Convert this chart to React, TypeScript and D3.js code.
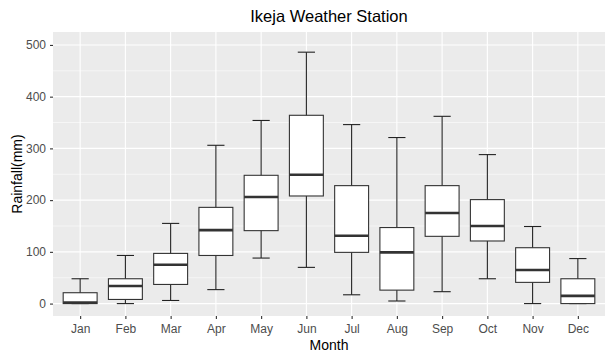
import React, { useRef, useEffect } from 'react';
import * as d3 from 'd3';

const months = ['Jan', 'Feb', 'Mar', 'Apr', 'May', 'Jun', 'Jul', 'Aug', 'Sep', 'Oct', 'Nov', 'Dec'];
const lowerWhisker = [0, 0, 6, 27, 88, 70, 17, 5, 23, 48, 0, 0];
const q1 = [0, 8, 37, 93, 141, 208, 99, 26, 130, 121, 41, 0];
const median = [2, 34, 75, 142, 206, 249, 131, 99, 175, 150, 65, 15];
const q3 = [21, 48, 97, 186, 248, 364, 228, 147, 228, 201, 108, 48];
const upperWhisker = [48, 93, 155, 306, 354, 486, 346, 321, 362, 288, 149, 87];
const yTicks = [0, 100, 200, 300, 400, 500];
const yMinorTicks = [50, 150, 250, 350, 450];

const App = () => {
    const svgRef = useRef<SVGSVGElement>(null);

    useEffect(() => {
        const svg = d3.select(svgRef.current);
        svg.selectAll('*').remove();

        const panel = { left: 53, right: 605, top: 32, bottom: 316 };
        const font = '"Liberation Sans", Arial, sans-serif';

        const x = d3.scalePoint<string>()
            .domain(months)
            .range([panel.left, panel.right])
            .padding(0.6);
        const step = x.step();

        const y = d3.scaleLinear()
            .domain([-24, 525])
            .range([panel.bottom, panel.top]);

        const data = months.map((m, i) => ({
            month: m,
            lo: lowerWhisker[i],
            q1: q1[i],
            med: median[i],
            q3: q3[i],
            hi: upperWhisker[i]
        }));

        // panel background
        svg.append('rect')
            .attr('x', panel.left)
            .attr('y', panel.top)
            .attr('width', panel.right - panel.left)
            .attr('height', panel.bottom - panel.top)
            .attr('fill', '#ebebeb');

        // grid lines
        svg.append('g')
            .selectAll('line')
            .data(yMinorTicks)
            .join('line')
            .attr('x1', panel.left).attr('x2', panel.right)
            .attr('y1', d => y(d)).attr('y2', d => y(d))
            .attr('stroke', '#fff')
            .attr('stroke-width', 0.55);

        svg.append('g')
            .selectAll('line')
            .data(yTicks)
            .join('line')
            .attr('x1', panel.left).attr('x2', panel.right)
            .attr('y1', d => y(d)).attr('y2', d => y(d))
            .attr('stroke', '#fff')
            .attr('stroke-width', 1.1);

        svg.append('g')
            .selectAll('line')
            .data(months)
            .join('line')
            .attr('x1', d => x(d)!).attr('x2', d => x(d)!)
            .attr('y1', panel.top).attr('y2', panel.bottom)
            .attr('stroke', '#fff')
            .attr('stroke-width', 1.1);

        // boxplots
        const boxes = svg.append('g')
            .selectAll('g')
            .data(data)
            .join('g');

        const boxW = step * 0.75;
        const capW = step * 0.38;

        // whiskers
        boxes.append('line')
            .attr('x1', d => x(d.month)!).attr('x2', d => x(d.month)!)
            .attr('y1', d => y(d.hi)).attr('y2', d => y(d.lo))
            .attr('stroke', '#222')
            .attr('stroke-width', 1.1);

        // caps
        boxes.selectAll('line.cap')
            .data(d => [{ m: d.month, v: d.hi }, { m: d.month, v: d.lo }])
            .join('line')
            .attr('class', 'cap')
            .attr('x1', d => x(d.m)! - capW / 2).attr('x2', d => x(d.m)! + capW / 2)
            .attr('y1', d => y(d.v)).attr('y2', d => y(d.v))
            .attr('stroke', '#222')
            .attr('stroke-width', 1.1);

        boxes.append('rect')
            .attr('x', d => x(d.month)! - boxW / 2)
            .attr('width', boxW)
            .attr('y', d => y(d.q3))
            .attr('height', d => y(d.q1) - y(d.q3))
            .attr('fill', '#fff')
            .attr('stroke', '#333')
            .attr('stroke-width', 1.1);

        boxes.append('line')
            .attr('x1', d => x(d.month)! - boxW / 2).attr('x2', d => x(d.month)! + boxW / 2)
            .attr('y1', d => y(d.med)).attr('y2', d => y(d.med))
            .attr('stroke', '#333')
            .attr('stroke-width', 2.6);

        // x axis
        const xAxis = svg.append('g')
            .attr('transform', `translate(0,${panel.bottom})`)
            .call(d3.axisBottom(x).tickSize(3).tickPadding(5));
        xAxis.select('.domain').remove();
        xAxis.selectAll('line').attr('stroke', '#333').attr('stroke-width', 1.1);
        xAxis.selectAll('text')
            .attr('fill', '#4d4d4d')
            .style('font-family', font)
            .style('font-size', '12px');

        // y axis
        const yAxis = svg.append('g')
            .attr('transform', `translate(${panel.left},0)`)
            .call(d3.axisLeft(y).tickValues(yTicks).tickSize(3).tickPadding(4));
        yAxis.select('.domain').remove();
        yAxis.selectAll('line').attr('stroke', '#333').attr('stroke-width', 1.1);
        yAxis.selectAll('text')
            .attr('fill', '#4d4d4d')
            .style('font-family', font)
            .style('font-size', '12px');

        // axis titles
        svg.append('text')
            .attr('x', (panel.left + panel.right) / 2)
            .attr('y', 350)
            .attr('text-anchor', 'middle')
            .style('font-family', font)
            .style('font-size', '14px')
            .attr('fill', '#000')
            .text('Month');

        svg.append('text')
            .attr('transform', `translate(22,${(panel.top + panel.bottom) / 2}) rotate(-90)`)
            .attr('text-anchor', 'middle')
            .style('font-family', font)
            .style('font-size', '14px')
            .attr('fill', '#000')
            .text('Rainfall(mm)');

        // title
        svg.append('text')
            .attr('x', (panel.left + panel.right) / 2)
            .attr('y', 22)
            .attr('text-anchor', 'middle')
            .style('font-family', font)
            .style('font-size', '16.5px')
            .attr('fill', '#000')
            .text('Ikeja Weather Station');
    }, []);

    return (
        <svg
            ref={svgRef}
            width="613"
            height="361"
            style={{ position: 'absolute', left: 0, top: 0, background: '#fff' }}
        ></svg>
    );
};

export default App;
